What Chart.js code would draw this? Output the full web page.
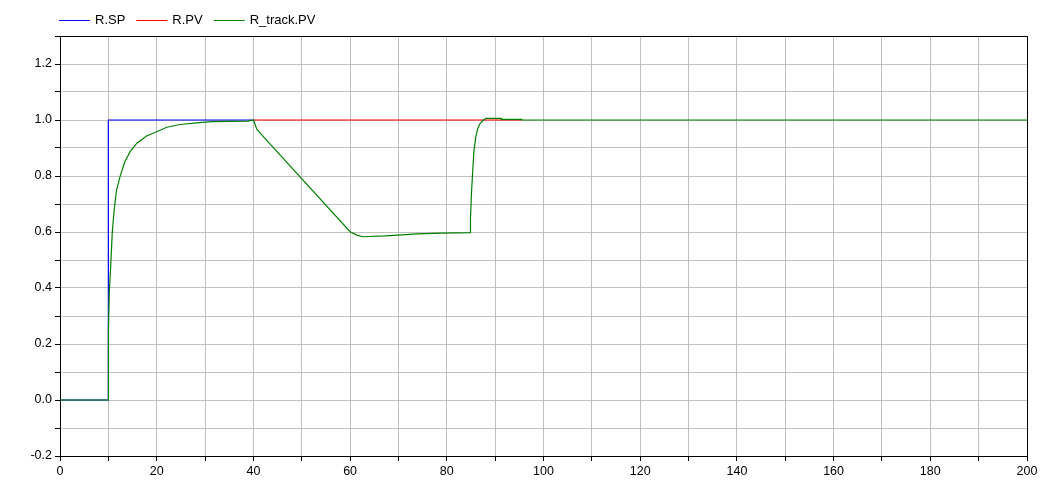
<!DOCTYPE html>
<html>
<head>
<meta charset="utf-8">
<script src="https://cdn.jsdelivr.net/npm/chart.js@4.4.0/dist/chart.umd.min.js"></script>
<style>
  html, body { margin: 0; padding: 0; background: #fff; }
  #wrap { width: 1052px; height: 481px; }
</style>
</head>
<body>
<div id="wrap"><canvas id="canvas" width="1052" height="481"></canvas></div>
<script>
// setpoint R.SP (visible part; from 40 on it sits under R.PV)
let spT = [0, 10, 10, 40];
let spV = [0, 0, 1, 1];

// R.PV (visible part; before 40 it sits under the tracking curve)
let pvT = [40, 95.5];
let pvV = [1, 1];

// R_track.PV
let trackT = [0, 10, 10, 10.05, 10.2, 10.48, 10.8, 11.2, 11.7, 12.4, 13.4, 14.5, 15.9, 17.9, 20, 22.1, 24.8, 28.3, 31.4, 38.9, 40,
  40.7, 42.1, 60, 61.4, 62.6, 67.2, 70, 73.8, 78.9, 84.9,
  84.9, 85.1, 85.3, 85.6, 86, 86.4, 86.9, 87.6, 88.1, 91.3, 91.3, 95.5, 95.5, 200];
let trackV = [0, 0, 0.087, 0.256, 0.387, 0.476, 0.595, 0.679, 0.75, 0.797, 0.851, 0.887, 0.917, 0.943, 0.958, 0.974, 0.984, 0.99, 0.994, 0.996, 1.0,
  0.967, 0.94, 0.601, 0.589, 0.583, 0.586, 0.589, 0.593, 0.596, 0.598,
  0.649, 0.738, 0.8, 0.887, 0.94, 0.97, 0.988, 1.0, 1.006, 1.006, 1.0025, 1.0025, 1.0, 1.0];

let seriesNames = ["R.SP", "R.PV", "R_track.PV"];
let seriesColors = ["#0000ff", "#ff0000", "#008000"];

function pts(t, v) {
  let out = [];
  for (let i = 0; i < t.length; i++) {
    out.push({ x: t[i], y: v[i] });
  }
  return out;
}

const fontFam = "'Liberation Sans', Arial, Helvetica, sans-serif";

// legend + top/right frame
const extras = {
  id: "extras",
  afterDraw(chart) {
    const ctx = chart.ctx;
    const a = chart.chartArea;
    ctx.save();
    ctx.strokeStyle = "#000";
    ctx.lineWidth = 1;
    ctx.beginPath();
    ctx.moveTo(a.left, a.top + 0.5);
    ctx.lineTo(a.right + 0.5, a.top + 0.5);
    ctx.lineTo(a.right + 0.5, a.bottom);
    ctx.stroke();

    ctx.font = "13px " + fontFam;
    ctx.textBaseline = "middle";
    ctx.fillStyle = "#000";
    let x = a.left - 1;
    const y = 20.5;
    chart.data.datasets.forEach((ds) => {
      ctx.strokeStyle = ds.borderColor;
      ctx.lineWidth = 1;
      ctx.beginPath();
      ctx.moveTo(x, y);
      ctx.lineTo(x + 31, y);
      ctx.stroke();
      ctx.fillText(ds.label, x + 36, y);
      x += 36 + ctx.measureText(ds.label).width + 11;
    });
    ctx.restore();
  }
};

new Chart(document.getElementById("canvas"), {
  type: "scatter",
  data: {
    datasets: [
      { label: seriesNames[0], data: pts(spT, spV), borderColor: seriesColors[0], order: 3 },
      { label: seriesNames[1], data: pts(pvT, pvV), borderColor: seriesColors[1], order: 2 },
      { label: seriesNames[2], data: pts(trackT, trackV), borderColor: seriesColors[2], order: 1 }
    ].map((d) => Object.assign(d, {
      showLine: true, borderWidth: 1.2, pointRadius: 0, tension: 0, fill: false
    }))
  },
  options: {
    responsive: false,
    animation: false,
    layout: { padding: { top: 36, right: 25, left: 0, bottom: 0 } },
    plugins: { legend: { display: false }, tooltip: { enabled: false } },
    scales: {
      x: {
        type: "linear",
        min: 0,
        max: 200,
        afterFit: (s) => { s.height = 25; },
        border: { color: "#000", width: 1 },
        grid: { color: "#c0c0c0", tickColor: "#000", tickLength: 5, lineWidth: 1 },
        ticks: {
          stepSize: 10,
          autoSkip: false,
          maxRotation: 0,
          padding: 3,
          color: "#000",
          font: { family: fontFam, size: 12.5 },
          callback: (v) => (v % 20 === 0 ? String(v) : "")
        }
      },
      y: {
        type: "linear",
        min: -0.2,
        max: 1.3,
        afterFit: (s) => { s.width = 60; },
        border: { color: "#000", width: 1 },
        grid: { color: "#c0c0c0", tickColor: "#000", tickLength: 5, lineWidth: 1 },
        ticks: {
          stepSize: 0.1,
          autoSkip: false,
          padding: 3,
          color: "#000",
          font: { family: fontFam, size: 12.5 },
          callback: (v) => {
            const k = Math.round(v * 10);
            return k % 2 === 0 ? (k / 10).toFixed(1) : "";
          }
        }
      }
    }
  },
  plugins: [extras]
});
</script>
</body>
</html>
